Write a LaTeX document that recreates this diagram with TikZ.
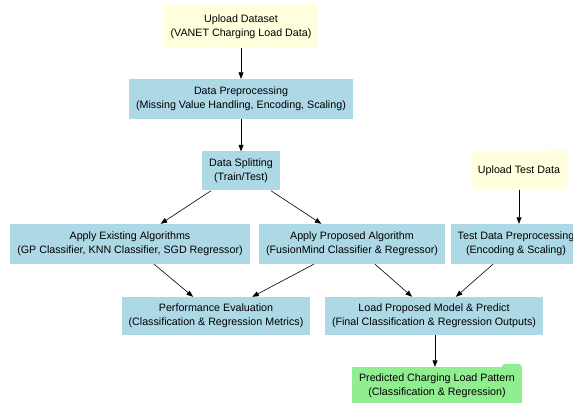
\documentclass[tikz,border=0pt]{standalone}
\usepackage{fontspec}
\setmainfont{Liberation Sans}
\usepackage{tikz}
\usetikzlibrary{arrows.meta, positioning, calc}

\definecolor{boxblue}{HTML}{ADD8E6}
\definecolor{boxyellow}{HTML}{FFFFDD}
\definecolor{boxgreen}{HTML}{90EE90}

\tikzset{
  stage/.style={fill=boxblue, draw=none, align=center, inner xsep=7pt,
    minimum height=40pt, font=\fontsize{10.7}{14}\selectfont},
  inputbox/.style={stage, fill=boxyellow},
  outputbox/.style={stage, fill=boxgreen},
  flow/.style={-{Triangle[length=6.5pt,width=5pt]}, black, line width=0.6pt}
}

% small folder tab on the top right corner of a box
\newcommand{\foldertab}[2]{%
  \fill[#2, rounded corners=1pt] ($(#1.north east)+(-21,-0.5)$) -- ++(3,3.5)
    -- ++(16,0) -- ++(2,-3.5) -- cycle;}

\begin{document}
\begin{tikzpicture}[x=1pt, y=1pt]

% Canvas (same size as the reference)
\useasboundingbox (0,0) rectangle (573,-403);
\clip (0,0) rectangle (573,-403);
\fill[white] (0,0) rectangle (573,-403);

% Main branch
\node[inputbox, minimum height=42pt] (upload) at (241,-27) {Upload Dataset\\(VANET Charging Load Data)};
\node[stage] (preproc) at (241,-99) {Data Preprocessing\\(Missing Value Handling, Encoding, Scaling)};
\node[stage, minimum height=39pt] (split) at (241,-171) {Data Splitting\\(Train/Test)};

% Algorithms
\node[stage] (existing) at (130,-244) {Apply Existing Algorithms\\(GP Classifier, KNN Classifier, SGD Regressor)};
\node[stage] (proposed) at (352,-244) {Apply Proposed Algorithm\\(FusionMind Classifier \& Regressor)};

% Test data branch
\node[inputbox, minimum height=37pt] (uploadtest) at (519,-171) {Upload Test Data};
\node[stage] (testprep) at (516,-244) {Test Data Preprocessing\\(Encoding \& Scaling)};

% Evaluation and prediction
\node[stage, minimum height=38pt] (perf) at (216,-316) {Performance Evaluation\\(Classification \& Regression Metrics)};
\node[stage, minimum height=38pt] (load) at (434,-316) {Load Proposed Model \& Predict\\(Final Classification \& Regression Outputs)};
\node[outputbox, minimum height=38pt] (pred) at (437,-386) {Predicted Charging Load Pattern\\(Classification \& Regression)};

% Folder tabs on input and output boxes
\foldertab{upload}{boxyellow}
\foldertab{uploadtest}{boxyellow}
\foldertab{pred}{boxgreen}

% Connectors
\draw[flow] (upload) -- (preproc);
\draw[flow] (preproc) -- (split);
\draw[flow] (split) -- (existing);
\draw[flow] (split) -- (proposed);
\draw[flow] (existing) -- (perf);
\draw[flow] (proposed) -- (perf);
\draw[flow] (proposed) -- (load);
\draw[flow] (uploadtest.south) -- (uploadtest.south |- testprep.north);
\draw[flow] (testprep) -- (load);
\draw[flow] (load.south -| 435,0) -- (pred.north -| 435,0);

\end{tikzpicture}
\end{document}
